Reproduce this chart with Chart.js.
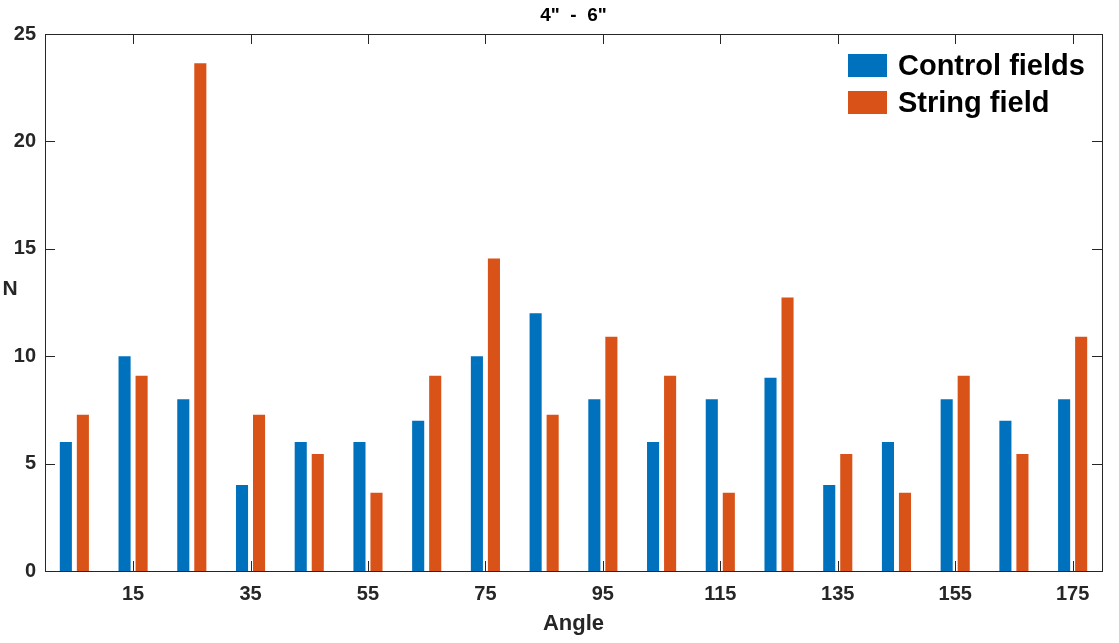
<!DOCTYPE html>
<html>
<head>
<meta charset="utf-8">
<script src="https://cdn.jsdelivr.net/npm/chart.js@4"></script>
<style>
  html, body { margin: 0; padding: 0; background: #fff; }
  #wrap { width: 1119px; height: 643px; }
</style>
</head>
<body>
<div id="wrap"><canvas id="angleChart" width="1119" height="643"></canvas></div>
<script>
// Data
const angles = [5, 15, 25, 35, 45, 55, 65, 75, 85, 95, 105, 115, 125, 135, 145, 155, 165, 175];
const controlFields = [6, 10, 8, 4, 6, 6, 7, 10, 12, 8, 6, 8, 9, 4, 6, 8, 7, 8];
const stringField = [7.27, 9.09, 23.64, 7.27, 5.45, 3.64, 9.09, 14.55, 7.27, 10.91, 9.09, 3.64, 12.73, 5.45, 3.64, 9.09, 5.45, 10.91];
const yTicks = [0, 5, 10, 15, 20, 25];

const axisColor = '#262626';
const font = '"Liberation Sans", Arial, Helvetica, sans-serif';

// box, inward ticks, title, axis labels, legend
const matlabAxes = {
    id: 'matlabAxes',
    afterDraw(chart) {
        const { ctx, chartArea: a, scales: { x, y } } = chart;
        ctx.save();
        ctx.strokeStyle = axisColor;
        ctx.lineWidth = 1;
        ctx.strokeRect(Math.round(a.left) + 0.5, Math.round(a.top) + 0.5,
            Math.round(a.right - a.left), Math.round(a.bottom - a.top));

        ctx.beginPath();
        angles.forEach((v, i) => {
            if (i % 2 === 0) return;
            const px = Math.round(x.getPixelForValue(i)) + 0.5;
            ctx.moveTo(px, a.bottom); ctx.lineTo(px, a.bottom - 10);
            ctx.moveTo(px, a.top); ctx.lineTo(px, a.top + 10);
        });
        yTicks.forEach(v => {
            const py = Math.round(y.getPixelForValue(v)) + 0.5;
            ctx.moveTo(a.left, py); ctx.lineTo(a.left + 10, py);
            ctx.moveTo(a.right, py); ctx.lineTo(a.right - 10, py);
        });
        ctx.stroke();

        ctx.fillStyle = '#000';
        ctx.textAlign = 'center';
        ctx.textBaseline = 'middle';
        ctx.font = 'bold 19px ' + font;
        ctx.fillText('4"  -  6"', (a.left + a.right) / 2, 16);

        ctx.fillStyle = axisColor;
        ctx.font = 'bold 21px ' + font;
        ctx.fillText('N', 10, 289);
        ctx.font = 'bold 22px ' + font;
        ctx.fillText('Angle', (a.left + a.right) / 2, 624);

        // legend
        ctx.textAlign = 'left';
        ctx.font = 'bold 29px ' + font;
        chart.data.datasets.forEach((ds, i) => {
            const top = 54 + i * 37;
            ctx.fillStyle = ds.backgroundColor;
            ctx.fillRect(848, top, 39, 23);
            ctx.fillStyle = '#000';
            ctx.fillText(ds.label, 898, top + 13);
        });
        ctx.restore();
    }
};

new Chart(document.getElementById('angleChart'), {
    type: 'bar',
    data: {
        labels: angles,
        datasets: [
            { label: 'Control fields', data: controlFields, backgroundColor: '#0072BD' },
            { label: 'String field', data: stringField, backgroundColor: '#D95319' }
        ]
    },
    options: {
        responsive: false,
        animation: false,
        devicePixelRatio: 1,
        layout: { padding: { left: 0, right: 17, top: 34, bottom: 0 } },
        datasets: { bar: { categoryPercentage: 0.58, barPercentage: 0.71 } },
        scales: {
            x: {
                grid: { display: false, drawTicks: false },
                border: { display: false },
                ticks: {
                    autoSkip: false, maxRotation: 0, padding: 11,
                    color: axisColor, font: { family: font, size: 20, weight: 'bold' },
                    callback: (v, i) => i % 2 ? angles[i] : ''
                },
                afterFit: s => { s.height = 72; }
            },
            y: {
                min: 0, max: 25,
                grid: { display: false, drawTicks: false },
                border: { display: false },
                ticks: {
                    stepSize: 5, padding: 9,
                    color: axisColor, font: { family: font, size: 20, weight: 'bold' }
                },
                afterFit: s => { s.width = 45; }
            }
        },
        plugins: {
            legend: { display: false },
            title: { display: false },
            tooltip: { enabled: false }
        }
    },
    plugins: [matlabAxes]
});
</script>
</body>
</html>
